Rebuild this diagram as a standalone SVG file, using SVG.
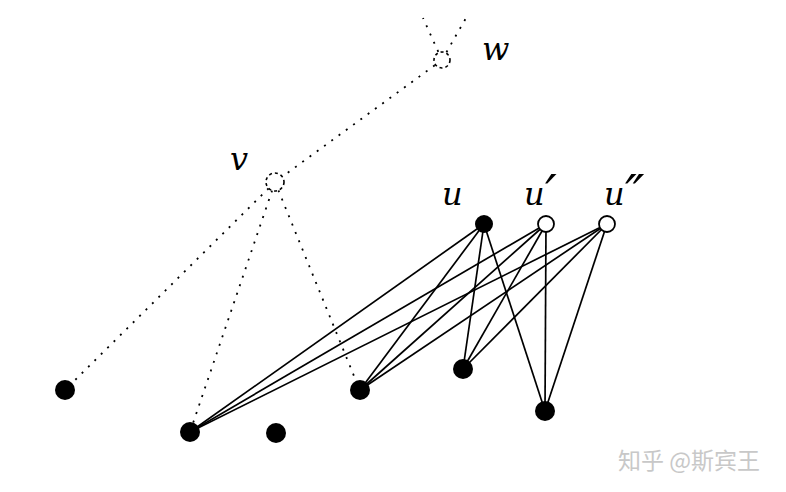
<svg xmlns="http://www.w3.org/2000/svg" width="786" height="492" viewBox="0 0 786 492">
<style>
.dot{stroke:#000;stroke-width:1.8;stroke-dasharray:2 7;fill:none}
.sol{stroke:#000;stroke-width:1.7;fill:none}
.f{fill:#000}
.o{fill:#fff;stroke:#000;stroke-width:1.8}
.oc{fill:#fff;stroke:#000;stroke-width:1.6;stroke-dasharray:3 3}
.lab{font-family:"DejaVu Serif","Liberation Serif",serif;font-style:italic;font-size:32px;fill:#000}
.pr{font-family:"DejaVu Serif","Liberation Serif",serif;font-style:italic;font-size:52px;fill:#000}
.wm{font-family:"Noto Sans CJK SC",sans-serif;font-size:23px;fill:#c8c8c8}
</style>
<rect width="786" height="492" fill="#fff"/>
<g id="connectors">
<line class="dot" x1="442" y1="60" x2="423" y2="18"/>
<line class="dot" x1="442" y1="60" x2="466" y2="18"/>
<line class="dot" x1="442" y1="60" x2="275" y2="182"/>
<line class="dot" x1="275" y1="182" x2="65" y2="390"/>
<line class="dot" x1="275" y1="182" x2="190" y2="432"/>
<line class="dot" x1="275" y1="182" x2="354" y2="376"/>
<line class="sol" x1="484" y1="224" x2="190" y2="432"/>
<line class="sol" x1="484" y1="224" x2="360" y2="390"/>
<line class="sol" x1="484" y1="224" x2="463" y2="369"/>
<line class="sol" x1="484" y1="224" x2="545" y2="411"/>
<line class="sol" x1="546" y1="224" x2="190" y2="432"/>
<line class="sol" x1="546" y1="224" x2="360" y2="390"/>
<line class="sol" x1="546" y1="224" x2="463" y2="369"/>
<line class="sol" x1="546" y1="224" x2="545" y2="411"/>
<line class="sol" x1="607" y1="224" x2="190" y2="432"/>
<line class="sol" x1="607" y1="224" x2="360" y2="390"/>
<line class="sol" x1="607" y1="224" x2="463" y2="369"/>
<line class="sol" x1="607" y1="224" x2="545" y2="411"/>
</g>
<g id="w"><circle class="oc" cx="442" cy="60" r="8"/><text class="lab" x="482" y="60">w</text></g>
<g id="v"><circle class="oc" cx="275" cy="182" r="9"/><text class="lab" x="230" y="170">v</text></g>
<g id="u"><circle class="f" cx="484" cy="224" r="9"/><text class="lab" x="442" y="205">u</text></g>
<g id="u1"><circle class="o" cx="546" cy="224" r="8"/><text class="lab" x="524" y="205">u</text><text class="pr" x="545" y="212">′</text></g>
<g id="u2"><circle class="o" cx="607" cy="224" r="8"/><text class="lab" x="604" y="205">u</text><text class="pr" x="625" y="212">″</text></g>
<g id="a"><circle class="f" cx="65" cy="390" r="10"/></g>
<g id="b"><circle class="f" cx="190" cy="432" r="10"/></g>
<g id="c"><circle class="f" cx="276" cy="433" r="10"/></g>
<g id="d"><circle class="f" cx="360" cy="390" r="10"/></g>
<g id="e"><circle class="f" cx="463" cy="369" r="10"/></g>
<g id="f2"><circle class="f" cx="545" cy="411" r="10"/></g>
<text class="wm" x="618" y="469">知乎 @斯宾王</text>
</svg>
